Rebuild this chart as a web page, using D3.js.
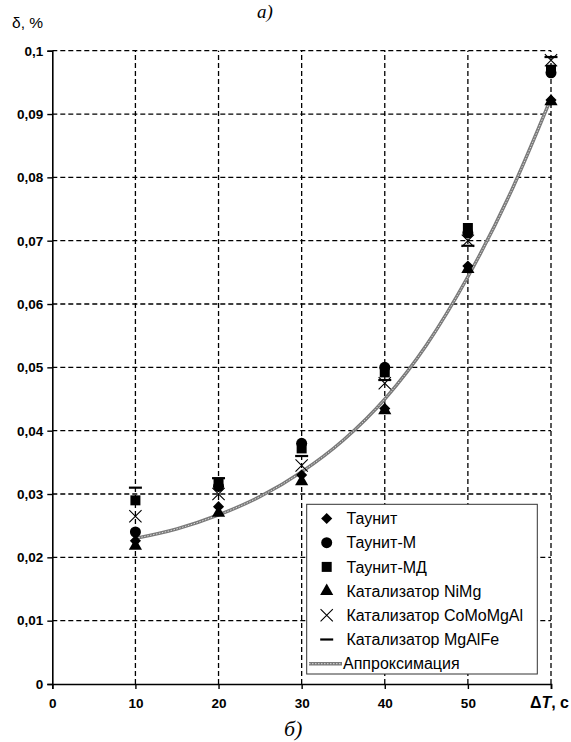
<!DOCTYPE html>
<html><head><meta charset="utf-8">
<script src="https://cdn.jsdelivr.net/npm/d3@7"></script>
<style>body{margin:0;background:#fff}svg{display:block}</style>
</head><body>
<script>
const xValues = [10, 20, 30, 40, 50, 60];
const seriesNames = ["Таунит","Таунит-М","Таунит-МД","Катализатор NiMg","Катализатор CoMoMgAl","Катализатор MgAlFe"];
const taunit   = [0.0226, 0.0280, 0.0330, 0.0435, 0.0660, 0.0922];
const taunitM  = [0.0240, 0.0312, 0.0380, 0.0500, 0.0712, 0.0965];
const taunitMD = [0.0290, 0.0318, 0.0372, 0.0492, 0.0720, 0.0970];
const niMg     = [0.0218, 0.0270, 0.0320, 0.0432, 0.0655, 0.0920];
const coMoMgAl = [0.0265, 0.0300, 0.0345, 0.0475, 0.0700, 0.0985];
const mgAlFe   = [0.0310, 0.0325, 0.0360, 0.0480, 0.0692, 0.0990];
const approxX  = [10, 15, 20, 25, 30, 35, 40, 45, 50, 55, 60];
const approxY  = [0.0230, 0.0245, 0.0267, 0.0296, 0.0335, 0.0385, 0.0450, 0.0535, 0.0643, 0.0772, 0.0925];
const xTicks = [0, 10, 20, 30, 40, 50, 60];
const xTickLabels = ["0","10","20","30","40","50",""];
const yTicks = [0,0.01,0.02,0.03,0.04,0.05,0.06,0.07,0.08,0.09,0.1];
const yTickLabels = ["0","0,01","0,02","0,03","0,04","0,05","0,06","0,07","0,08","0,09","0,1"];
const approxName = "Аппроксимация";

const W = 571, H = 742;
const svg = d3.select("body").append("svg").attr("width", W).attr("height", H);
const x = d3.scaleLinear().domain([0, 60]).range([52.3, 551]);
const y = d3.scaleLinear().domain([0, 0.1]).range([684, 50.7]);

// grid
const grid = svg.append("g").attr("stroke", "#000").attr("stroke-width", 1.3).attr("stroke-dasharray", "5,3");
grid.selectAll("line.h").data(yTicks.slice(1)).join("line")
  .attr("x1", x(0)).attr("x2", x(60)).attr("y1", d => y(d)).attr("y2", d => y(d));
grid.selectAll("line.v").data(xTicks.slice(1)).join("line")
  .attr("y1", y(0)).attr("y2", y(0.1)).attr("x1", d => x(d)).attr("x2", d => x(d));

// axes
const font = "Arial, 'Liberation Sans', sans-serif";
const yAxis = d3.axisLeft(y).tickValues(yTicks).tickFormat((d, i) => yTickLabels[i]).tickSize(5).tickPadding(4);
const gy = svg.append("g").attr("transform", `translate(${x(0)},0)`).call(yAxis);
const xAxis = d3.axisBottom(x).tickValues(xTicks).tickFormat((d, i) => xTickLabels[i]).tickSize(5).tickPadding(9);
const gx = svg.append("g").attr("transform", `translate(0,${y(0)})`).call(xAxis);
[gx, gy].forEach(g => {
  g.select(".domain").attr("stroke", "#000").attr("stroke-width", 1.6);
  g.selectAll(".tick line").attr("stroke", "#000").attr("stroke-width", 1.4);
  g.selectAll(".tick text").attr("font-family", font).attr("font-weight", "bold").attr("font-size", 13.5).attr("fill", "#000");
});

// approximation curve
const line = d3.line().x((d, i) => x(approxX[i])).y(d => y(d)).curve(d3.curveMonotoneX);
svg.append("path").datum(approxY).attr("d", line).attr("fill", "none").attr("stroke", "#7a7a7a").attr("stroke-width", 3.4);
svg.append("path").datum(approxY).attr("d", line).attr("fill", "none").attr("stroke", "#dcdcdc").attr("stroke-width", 1).attr("stroke-dasharray", "1.5,1.5");

// markers
const symbols = [
  d3.symbol().type(d3.symbolSquare).size(62),
  d3.symbol().type(d3.symbolCircle).size(95),
  d3.symbol().type(d3.symbolSquare).size(100),
  d3.symbol().type(d3.symbolTriangle).size(75)
];
function drawMarker(g, k, cx, cy) {
  if (k === 4) {
    g.append("path").attr("d", d3.symbol().type(d3.symbolTimes).size(100)()).attr("transform", `translate(${cx},${cy})`)
      .attr("fill", "none").attr("stroke", "#000").attr("stroke-width", 1.1);
  } else if (k === 5) {
    g.append("line").attr("x1", cx - 6.5).attr("x2", cx + 6.5).attr("y1", cy).attr("y2", cy).attr("stroke", "#000").attr("stroke-width", 2.2);
  } else {
    g.append("path").attr("d", symbols[k]()).attr("transform", k===0 ? `translate(${cx},${cy}) rotate(45)` : `translate(${cx},${cy})`).attr("fill", "#000");
  }
}
const data = [taunit, taunitM, taunitMD, niMg, coMoMgAl, mgAlFe];
const mg = svg.append("g");
data.forEach((arr, k) => arr.forEach((v, i) => drawMarker(mg, k, x(xValues[i]), y(v))));

// legend
const lg = svg.append("g");
lg.append("rect").attr("x", 306.7).attr("y", 504.3).attr("width", 230.6).attr("height", 169.7)
  .attr("fill", "#fff").attr("stroke", "#333").attr("stroke-width", 1);
const rowY = d3.range(7).map(i => 518.5 + i * 24.2);
seriesNames.forEach((name, k) => {
  drawMarker(lg, k, 326.7, rowY[k]);
  lg.append("text").attr("x", 346.5).attr("y", rowY[k]).attr("dy", "0.36em").text(name)
    .attr("font-family", font).attr("font-size", 16).attr("fill", "#000");
});
lg.append("line").attr("x1", 309).attr("x2", 342).attr("y1", rowY[6]).attr("y2", rowY[6]).attr("stroke", "#7a7a7a").attr("stroke-width", 3.4);
lg.append("line").attr("x1", 309).attr("x2", 342).attr("y1", rowY[6]).attr("y2", rowY[6]).attr("stroke", "#dcdcdc").attr("stroke-width", 1).attr("stroke-dasharray", "1.5,1.5");
lg.append("text").attr("x", 343).attr("y", rowY[6]).attr("dy", "0.36em").text(approxName)
  .attr("font-family", font).attr("font-size", 16).attr("fill", "#000");

// titles
svg.append("text").attr("x", 12).attr("y", 28).text("δ, %").attr("font-family", font).attr("font-size", 15.5).attr("fill", "#000");
svg.append("text").attr("x", 257).attr("y", 18).text("а)").attr("font-family", "'Liberation Serif', 'Times New Roman', serif").attr("font-style", "italic").attr("font-size", 19).attr("fill", "#000");
svg.append("text").attr("x", 284).attr("y", 736).text("б)").attr("font-family", "'Liberation Serif', 'Times New Roman', serif").attr("font-style", "italic").attr("font-size", 22).attr("fill", "#000");
const xl = svg.append("text").attr("x", 569).attr("y", 708).attr("text-anchor", "end").attr("font-family", font).attr("font-weight", "bold").attr("font-size", 16).attr("fill", "#000");
xl.append("tspan").text("Δ");
xl.append("tspan").attr("font-style", "italic").text("T");
xl.append("tspan").text(", с");
</script>
</body></html>
